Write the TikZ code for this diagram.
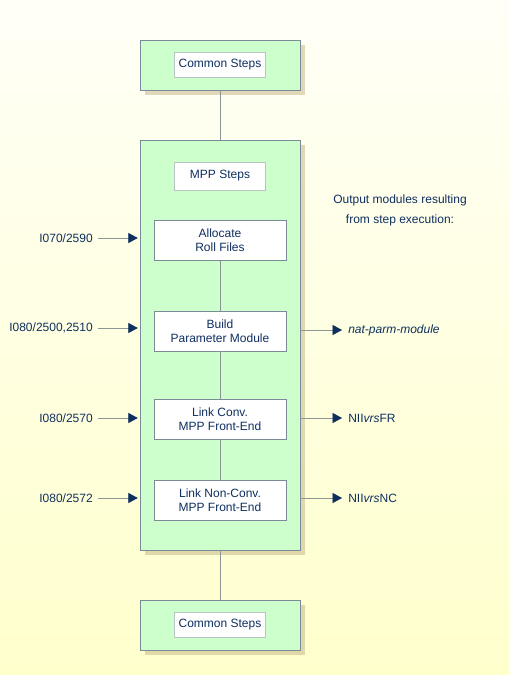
\documentclass[tikz,border=0pt]{standalone}
\usepackage{fontspec}
\setmainfont{Liberation Sans}
\usepackage{xcolor}
\usetikzlibrary{positioning,arrows.meta,shadows}

\definecolor{bgyellow}{HTML}{FFFFCC}
\definecolor{boxgreen}{HTML}{CCFFCC}
\definecolor{boxline}{HTML}{7A8A99}
\definecolor{innerline}{HTML}{B8C4C4}
\definecolor{textblue}{HTML}{0F2F5F}
\definecolor{linegray}{HTML}{8C9696}
\definecolor{shadowtan}{HTML}{C8B88A}

\begin{document}
\begin{tikzpicture}[
  x=0.75pt, y=-0.75pt,
  font=\fontsize{9}{10.5}\selectfont, text=textblue,
  outer/.style={rectangle, draw=boxline, fill=boxgreen, minimum width=120pt,
    drop shadow={shadow xshift=3.5pt, shadow yshift=-3.5pt, fill=shadowtan, opacity=0.55}},
  label/.style={rectangle, draw=innerline, fill=white, minimum width=68pt, minimum height=19pt, inner sep=1pt},
  stepbox/.style={rectangle, draw=boxline, fill=white, minimum width=99pt, minimum height=30pt, align=center, inner sep=1pt},
  io/.style={inner sep=0pt},
  link/.style={draw=linegray},
  arrow/.style={draw=linegray, -{Triangle[length=7pt,width=7.5pt,color=textblue]}}
]

% background
\useasboundingbox (0,0) rectangle (509,675);
\shade[top color=yellow!3, bottom color=bgyellow] (0,0) rectangle (509,675);

% outer green boxes
\node[outer, minimum height=37.5pt] (top) at (220,65) {};
\node[outer, minimum height=307.5pt] (mpp) at (220,345) {};
\node[outer, minimum height=37.5pt] (bottom) at (220,625) {};

\node[label] (toplabel) at (top) {Common Steps};
\node[label] (bottomlabel) at (bottom) {Common Steps};
\node[label, minimum height=21pt] (mpplabel) at (220,176) {MPP Steps};

% steps
\node[stepbox, below=22.5pt of mpplabel] (alloc) {Allocate\\Roll Files};
\node[stepbox, below=37.5pt of alloc] (build) {Build\\Parameter Module};
\node[stepbox, below=36pt of build] (conv) {Link Conv.\\MPP Front-End};
\node[stepbox, below=30pt of conv] (nonconv) {Link Non-Conv.\\MPP Front-End};

\draw[link] (top) -- (mpp);
\draw[link] (mpp) -- (bottom);
\draw[link] (alloc) -- (build);
\draw[link] (build) -- (conv);
\draw[link] (conv) -- (nonconv);

% inputs
\node[io, anchor=east] (in1) at (93,238) {I070/2590};
\node[io, anchor=east] (in2) at (93,328) {I080/2500,2510};
\node[io, anchor=east] (in3) at (93,418) {I080/2570};
\node[io, anchor=east] (in4) at (93,498) {I080/2572};

\draw[arrow, shorten >=1.5pt] ([xshift=4pt]in1.east) -- (in1.east -| mpp.west);
\draw[arrow, shorten >=1.5pt] ([xshift=4pt]in2.east) -- (in2.east -| mpp.west);
\draw[arrow, shorten >=1.5pt] ([xshift=4pt]in3.east) -- (in3.east -| mpp.west);
\draw[arrow, shorten >=1.5pt] ([xshift=4pt]in4.east) -- (in4.east -| mpp.west);

% outputs
\node[align=center, font=\fontsize{9}{15}\selectfont] (outtitle) at (400,210) {Output modules resulting\\from step execution:};
\node[io, anchor=west] (out1) at (348,330) {\textit{nat-parm-module}};
\node[io, anchor=west] (out2) at (348,418) {NII\textit{vrs}FR};
\node[io, anchor=west] (out3) at (348,498) {NII\textit{vrs}NC};

\draw[arrow, shorten >=4.5pt] (out1.west -| mpp.east) -- (out1.west);
\draw[arrow, shorten >=4.5pt] (out2.west -| mpp.east) -- (out2.west);
\draw[arrow, shorten >=4.5pt] (out3.west -| mpp.east) -- (out3.west);

\end{tikzpicture}
\end{document}
